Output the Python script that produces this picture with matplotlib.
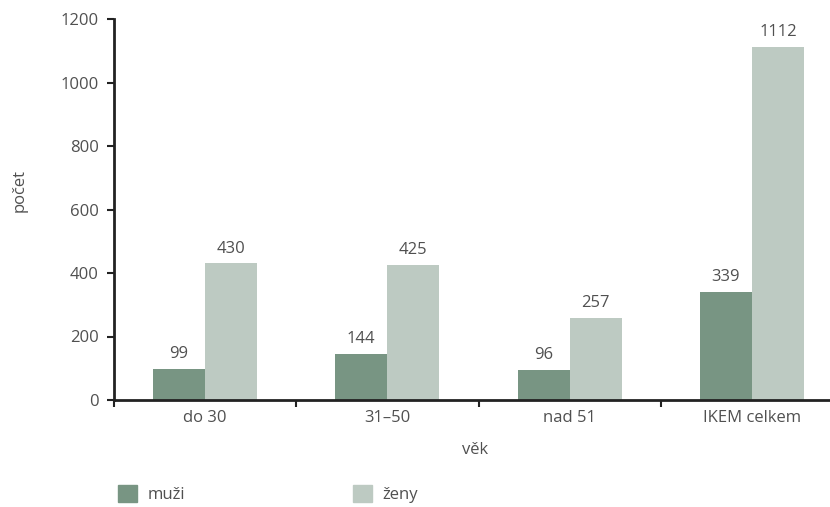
import matplotlib
matplotlib.use("Agg")
import matplotlib.pyplot as plt
import numpy as np
from matplotlib.patches import Patch

categories = ["do 30", "31–50", "nad 51", "IKEM celkem"]
muzi = [99, 144, 96, 339]
zeny = [430, 425, 257, 1112]
series_names = ["muži", "ženy"]

dark = "#789583"
light = "#bdcac2"
text_col = "#505050"
axis_col = "#222222"
fs = 12

plt.rcParams["font.family"] = ["Open Sans", "DejaVu Sans"]

fig = plt.figure(figsize=(8.3, 5.07), dpi=100)
ax = fig.add_axes([114 / 830, 1 - 400 / 507, 729 / 830, 381 / 507])

x = np.arange(len(categories))
w = 0.286
b1 = ax.bar(x - w / 2, muzi, w, color=dark)
b2 = ax.bar(x + w / 2, zeny, w, color=light)

for bars, vals in ((b1, muzi), (b2, zeny)):
    for rect, v in zip(bars, vals):
        ax.annotate(str(v), (rect.get_x() + rect.get_width() / 2, v),
                    xytext=(0, 5), textcoords="offset points",
                    ha="center", va="bottom", fontsize=fs, color=text_col)

ax.set_xlim(-0.5, len(categories) - 0.5)
ax.set_ylim(0, 1200)
ax.set_yticks(range(0, 1201, 200))

# boundaries get the tick marks, centres get the labels
ax.set_xticks(np.arange(len(categories) + 1) - 0.5)
ax.set_xticklabels([])
ax.set_xticks(x, minor=True)
ax.set_xticklabels(categories, minor=True)
ax.tick_params(axis="x", which="minor", length=0, pad=7, labelsize=fs, labelcolor=text_col)
ax.tick_params(axis="x", which="major", length=5, width=1.5, color=axis_col)
ax.tick_params(axis="y", length=5, width=1.5, color=axis_col, labelsize=fs,
               labelcolor=text_col, pad=6)

for s in ("top", "right"):
    ax.spines[s].set_visible(False)
for s in ("left", "bottom"):
    ax.spines[s].set_linewidth(2)
    ax.spines[s].set_color(axis_col)

ax.set_ylabel("počet", fontsize=fs, color=text_col)
ax.yaxis.set_label_coords(-0.118, 0.55)
fig.text(475 / 830, 1 - 450 / 507, "věk", ha="center", va="center",
         fontsize=fs, color=text_col)

handles = [Patch(color=dark), Patch(color=light)]
fig.legend(handles, series_names, loc="center left",
           bbox_to_anchor=(103 / 830, 1 - 494 / 507), ncol=2, frameon=False,
           handlelength=1.15, handleheight=1.15, handletextpad=0.6,
           columnspacing=10.1, fontsize=fs, labelcolor=text_col)

fig.savefig("out.png", dpi=100)
